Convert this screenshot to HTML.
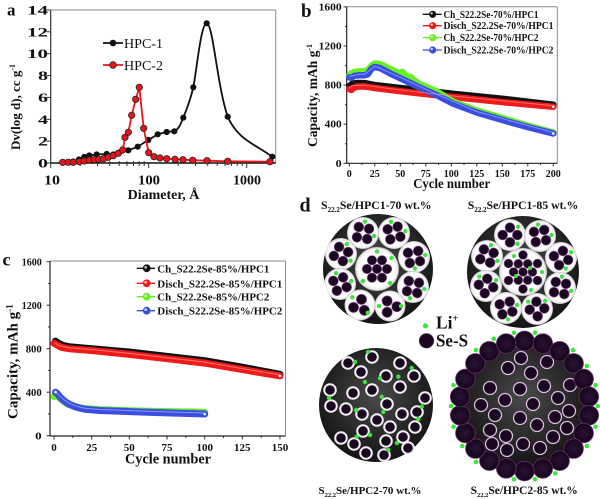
<!DOCTYPE html>
<html><head><meta charset="utf-8"><style>
html,body{margin:0;padding:0;background:#fff;}
svg{display:block;}
text{font-family:"Liberation Serif",serif;font-weight:bold;fill:#111;}
.p{fill:#1a0820;stroke:#a060a8;stroke-width:.6}
.g{fill:#3de33d}
.w{fill:#1a0820;stroke:#f6eef6;stroke-width:2}
.wp{fill:#1a0820;stroke:#dcbde0;stroke-width:1.3}
.rp{fill:url(#rg);stroke:#6a2a6a;stroke-width:.8}
</style></head><body>
<svg width="600" height="499" viewBox="0 0 600 499" xmlns="http://www.w3.org/2000/svg">
<defs>
<radialGradient id="dk" cx="50%" cy="42%" r="60%"><stop offset="0" stop-color="#4a4a4a"/><stop offset=".6" stop-color="#282828"/><stop offset="1" stop-color="#121212"/></radialGradient>
<radialGradient id="cg" cx="50%" cy="50%" r="50%"><stop offset="0" stop-color="#fff"/><stop offset=".8" stop-color="#fff"/><stop offset=".93" stop-color="#ececec"/><stop offset="1" stop-color="#b5b5b5"/></radialGradient>
<radialGradient id="rg" cx="50%" cy="50%" r="50%"><stop offset="0" stop-color="#2c1236"/><stop offset="1" stop-color="#14071a"/></radialGradient>
<g id="c4"><circle r="16" fill="url(#cg)"/><circle cx="-5.2" cy="-5.2" r="5" class="p"/><circle cx="5.2" cy="-5.2" r="5" class="p"/><circle cx="-5.2" cy="5.2" r="5" class="p"/><circle cx="5.2" cy="5.2" r="5" class="p"/><circle cx="0" cy="-11.5" r="2.2" class="g"/><circle cx="11.5" cy="1" r="2.2" class="g"/></g>
<g id="c3"><circle r="15.5" fill="url(#cg)"/><circle cx="0" cy="-5.8" r="5.2" class="p"/><circle cx="-5.6" cy="4" r="5.2" class="p"/><circle cx="5.6" cy="4" r="5.2" class="p"/><circle cx="-9.5" cy="-5.5" r="2.2" class="g"/><circle cx="9.5" cy="5.5" r="2.2" class="g"/></g>
<clipPath id="clTL"><circle cx="378" cy="269" r="55"/></clipPath>
<clipPath id="clTR"><circle cx="523" cy="272" r="56"/></clipPath>
</defs>

<!-- ============ PANEL A ============ -->
<text x="7" y="15.5" font-size="17">a</text>
<line x1="50.7" y1="10" x2="275.7" y2="10" stroke="#8a8a8a" stroke-width="1"/>
<line x1="275.7" y1="10" x2="275.7" y2="163" stroke="#8a8a8a" stroke-width="1"/>
<line x1="50.7" y1="10" x2="50.7" y2="163" stroke="#333" stroke-width="1.2"/>
<line x1="50.7" y1="163" x2="275.7" y2="163" stroke="#111" stroke-width="1.5"/>
<g stroke="#333" stroke-width="1">
<line x1="46.5" y1="163" x2="50.7" y2="163"/><line x1="46.5" y1="141.1" x2="50.7" y2="141.1"/><line x1="46.5" y1="119.3" x2="50.7" y2="119.3"/><line x1="46.5" y1="97.4" x2="50.7" y2="97.4"/><line x1="46.5" y1="75.6" x2="50.7" y2="75.6"/><line x1="46.5" y1="53.7" x2="50.7" y2="53.7"/><line x1="46.5" y1="31.8" x2="50.7" y2="31.8"/><line x1="46.5" y1="10" x2="50.7" y2="10"/>
<line x1="50.7" y1="163" x2="50.7" y2="168"/><line x1="148.7" y1="163" x2="148.7" y2="168"/><line x1="246.7" y1="163" x2="246.7" y2="168"/>
<line x1="80.2" y1="161" x2="80.2" y2="166"/><line x1="97.5" y1="161" x2="97.5" y2="166"/><line x1="109.7" y1="161" x2="109.7" y2="166"/><line x1="119.2" y1="161" x2="119.2" y2="166"/><line x1="127" y1="161" x2="127" y2="166"/><line x1="133.5" y1="161" x2="133.5" y2="166"/><line x1="139.2" y1="161" x2="139.2" y2="166"/><line x1="144.2" y1="161" x2="144.2" y2="166"/>
<line x1="178.2" y1="161" x2="178.2" y2="166"/><line x1="195.5" y1="161" x2="195.5" y2="166"/><line x1="207.7" y1="161" x2="207.7" y2="166"/><line x1="217.2" y1="161" x2="217.2" y2="166"/><line x1="225" y1="161" x2="225" y2="166"/><line x1="231.5" y1="161" x2="231.5" y2="166"/><line x1="237.2" y1="161" x2="237.2" y2="166"/><line x1="242.2" y1="161" x2="242.2" y2="166"/>
</g>
<g font-size="13" text-anchor="end">
<text x="48" y="167.5" textLength="10" lengthAdjust="spacingAndGlyphs">0</text>
<text x="48" y="145.6" textLength="10" lengthAdjust="spacingAndGlyphs">2</text>
<text x="48" y="123.8" textLength="10" lengthAdjust="spacingAndGlyphs">4</text>
<text x="48" y="101.9" textLength="10" lengthAdjust="spacingAndGlyphs">6</text>
<text x="48" y="80.1" textLength="10" lengthAdjust="spacingAndGlyphs">8</text>
<text x="48" y="58.2" textLength="21" lengthAdjust="spacingAndGlyphs">10</text>
<text x="48" y="36.3" textLength="21" lengthAdjust="spacingAndGlyphs">12</text>
<text x="48" y="14.5" textLength="21" lengthAdjust="spacingAndGlyphs">14</text>
</g>
<g font-size="14" text-anchor="middle">
<text x="52" y="184.3" textLength="16" lengthAdjust="spacingAndGlyphs">10</text>
<text x="149" y="184.3" textLength="22" lengthAdjust="spacingAndGlyphs">100</text>
<text x="247" y="184.3" textLength="28" lengthAdjust="spacingAndGlyphs">1000</text>
</g>
<text x="163.5" y="199" font-size="14" text-anchor="middle">Diameter, Å</text>
<text transform="translate(20,107) rotate(-90)" font-size="13" text-anchor="middle">Dv(log d), cc g<tspan dy="-5" font-size="8">-1</tspan></text>
<!-- legend a -->
<line x1="103" y1="43" x2="123" y2="43" stroke="#111" stroke-width="1.8"/>
<circle cx="113" cy="43" r="3.3" fill="#111"/>
<text x="124" y="48" font-size="14" textLength="39" lengthAdjust="spacingAndGlyphs" style="font-weight:normal">HPC-1</text>
<line x1="103" y1="65" x2="123" y2="65" stroke="#f0141c" stroke-width="1.8"/>
<circle cx="113" cy="65" r="3.3" fill="#e8141c" stroke="#222" stroke-width=".8"/>
<text x="124" y="70" font-size="14" textLength="39" lengthAdjust="spacingAndGlyphs" style="font-weight:normal">HPC-2</text>
<!-- black series -->
<path d="M62.7,162.3 L68.3,162.3 L73.3,161.5 L79,159.5 L84.3,157 L89.3,155.5 L96.7,154.5 L106.7,154 L113.3,154.5 L119.3,152.5 L128.3,150.3 L137.7,146.7 L148.3,140 L157.7,134.3 L166.7,132 L174.3,131.3 C178.5,129.5 180.5,124.5 183.3,117.7 C187,108 190.5,100 193.3,87.3 C197,68 201,23.3 206.7,23.3 C213,23.3 217,85 227.7,116.7 C238,140 255,144 272.3,156.7" fill="none" stroke="#111" stroke-width="1.8"/>
<g fill="#111">
<circle cx="62.7" cy="162.3" r="3.1"/><circle cx="68.3" cy="162.3" r="3.1"/><circle cx="73.3" cy="161.5" r="3.1"/><circle cx="79" cy="159.5" r="3.1"/><circle cx="84.3" cy="157" r="3.1"/><circle cx="89.3" cy="155.5" r="3.1"/><circle cx="96.7" cy="154.5" r="3.1"/><circle cx="106.7" cy="154" r="3.1"/><circle cx="113.3" cy="154.5" r="3.1"/><circle cx="119.3" cy="152.5" r="3.1"/><circle cx="128.3" cy="150.3" r="3.1"/><circle cx="137.7" cy="146.7" r="3.1"/><circle cx="148.3" cy="140" r="3.1"/><circle cx="157.7" cy="134.3" r="3.1"/><circle cx="166.7" cy="132" r="3.1"/><circle cx="174.3" cy="131.3" r="3.1"/><circle cx="183.3" cy="117.7" r="3.1"/><circle cx="193.3" cy="87.3" r="3.1"/><circle cx="206.7" cy="23.3" r="3.1"/><circle cx="227.7" cy="116.7" r="3.1"/><circle cx="272.3" cy="156.7" r="3.1"/>
</g>
<!-- red series -->
<polyline points="62.7,162.3 68.3,162.3 73.3,162.3 79.3,161.7 84.3,161 89.3,160 94.3,159.7 98.7,159.3 103.7,158.7 108.3,157.3 113.3,155.7 118.3,153.3 122.7,150 125,137.3 128.3,132.3 131.7,115.3 135.7,99.3 139.3,87.3 143.7,128.3 148.7,152.7 154,156.7 160,158 166.7,158.7 175,159.3 183,159.7 192.7,160.3 207,160.7 227.7,161.3 270,161.7" fill="none" stroke="#f0141c" stroke-width="1.8"/>
<g fill="#e8141c" stroke="#222" stroke-width=".8">
<circle cx="62.7" cy="162.3" r="3.2"/><circle cx="68.3" cy="162.3" r="3.2"/><circle cx="73.3" cy="162.3" r="3.2"/><circle cx="79.3" cy="161.7" r="3.2"/><circle cx="84.3" cy="161" r="3.2"/><circle cx="89.3" cy="160" r="3.2"/><circle cx="94.3" cy="159.7" r="3.2"/><circle cx="98.7" cy="159.3" r="3.2"/><circle cx="103.7" cy="158.7" r="3.2"/><circle cx="108.3" cy="157.3" r="3.2"/><circle cx="113.3" cy="155.7" r="3.2"/><circle cx="118.3" cy="153.3" r="3.2"/><circle cx="122.7" cy="150" r="3.2"/><circle cx="125" cy="137.3" r="3.2"/><circle cx="128.3" cy="132.3" r="3.2"/><circle cx="131.7" cy="115.3" r="3.2"/><circle cx="135.7" cy="99.3" r="3.2"/><circle cx="139.3" cy="87.3" r="3.2"/><circle cx="143.7" cy="128.3" r="3.2"/><circle cx="148.7" cy="152.7" r="3.2"/><circle cx="154" cy="156.7" r="3.2"/><circle cx="160" cy="158" r="3.2"/><circle cx="166.7" cy="158.7" r="3.2"/><circle cx="175" cy="159.3" r="3.2"/><circle cx="183" cy="159.7" r="3.2"/><circle cx="192.7" cy="160.3" r="3.2"/><circle cx="207" cy="160.7" r="3.2"/><circle cx="227.7" cy="161.3" r="3.2"/><circle cx="270" cy="161.7" r="3.2"/>
</g>

<!-- ============ PANEL B ============ -->
<text x="301" y="17" font-size="19">b</text>
<line x1="346.7" y1="6.7" x2="557.3" y2="6.7" stroke="#8a8a8a" stroke-width="1"/>
<line x1="557.3" y1="6.7" x2="557.3" y2="163.3" stroke="#8a8a8a" stroke-width="1"/>
<g stroke="#333" stroke-width="1">
<line x1="343.5" y1="163.3" x2="346.7" y2="163.3"/><line x1="343.5" y1="124.2" x2="346.7" y2="124.2"/><line x1="343.5" y1="85.1" x2="346.7" y2="85.1"/><line x1="343.5" y1="46" x2="346.7" y2="46"/><line x1="343.5" y1="6.9" x2="346.7" y2="6.9"/>
<line x1="345" y1="143.8" x2="346.7" y2="143.8"/><line x1="345" y1="104.7" x2="346.7" y2="104.7"/><line x1="345" y1="65.6" x2="346.7" y2="65.6"/><line x1="345" y1="26.5" x2="346.7" y2="26.5"/>
<line x1="349.3" y1="163.3" x2="349.3" y2="166.5"/><line x1="374.8" y1="163.3" x2="374.8" y2="166.5"/><line x1="400.3" y1="163.3" x2="400.3" y2="166.5"/><line x1="425.8" y1="163.3" x2="425.8" y2="166.5"/><line x1="451.3" y1="163.3" x2="451.3" y2="166.5"/><line x1="476.8" y1="163.3" x2="476.8" y2="166.5"/><line x1="502.3" y1="163.3" x2="502.3" y2="166.5"/><line x1="527.8" y1="163.3" x2="527.8" y2="166.5"/><line x1="553.3" y1="163.3" x2="553.3" y2="166.5"/>
<line x1="362" y1="163.3" x2="362" y2="165"/><line x1="387.5" y1="163.3" x2="387.5" y2="165"/><line x1="413" y1="163.3" x2="413" y2="165"/><line x1="438.5" y1="163.3" x2="438.5" y2="165"/><line x1="464" y1="163.3" x2="464" y2="165"/><line x1="489.5" y1="163.3" x2="489.5" y2="165"/><line x1="515" y1="163.3" x2="515" y2="165"/><line x1="540.5" y1="163.3" x2="540.5" y2="165"/>
</g>
<line x1="346.7" y1="6.7" x2="346.7" y2="163.3" stroke="#222" stroke-width="1.2"/>
<line x1="346.7" y1="163.3" x2="557.3" y2="163.3" stroke="#222" stroke-width="1.2"/>
<g font-size="10" text-anchor="end">
<text x="341.7" y="166.8" textLength="6" lengthAdjust="spacingAndGlyphs">0</text>
<text x="341.7" y="127.7" textLength="17" lengthAdjust="spacingAndGlyphs">400</text>
<text x="341.7" y="88.6" textLength="17" lengthAdjust="spacingAndGlyphs">800</text>
<text x="341.7" y="49.5" textLength="23" lengthAdjust="spacingAndGlyphs">1200</text>
<text x="341.7" y="10.4" textLength="23" lengthAdjust="spacingAndGlyphs">1600</text>
</g>
<g font-size="10" text-anchor="middle">
<text x="349.3" y="177">0</text><text x="374.8" y="177">25</text><text x="400.3" y="177">50</text><text x="425.8" y="177">75</text><text x="451.3" y="177">100</text><text x="476.8" y="177">125</text><text x="502.3" y="177">150</text><text x="527.8" y="177">175</text><text x="553.3" y="177">200</text>
</g>
<text x="451.7" y="188" font-size="14" text-anchor="middle" textLength="77" lengthAdjust="spacingAndGlyphs">Cycle number</text>
<text transform="translate(317,95.5) rotate(-90)" font-size="13.5" text-anchor="middle">Capacity, mAh g<tspan dy="-5" font-size="8">-1</tspan></text>
<g fill="none" stroke-linejoin="round" stroke-linecap="round">
<polyline points="349.3,86.1 352.4,83.6 357.5,83 364.6,83.1 374.8,85.1 400.3,88 419.7,90 453.3,93.9 503.3,98.8 553.3,104.7" stroke="#111" stroke-width="6.5"/>
<polyline points="349.3,89 351.3,90 353.4,88 357.5,86.6 364.6,86.4 374.8,88 400.3,91.2 419.7,93.4 453.3,97 503.3,102.2 553.3,106.8" stroke="#f01a1a" stroke-width="6.5"/>
<polyline points="349.3,75.3 351.3,73.4 354.4,71.9 359.5,71.4 364.6,71.4 367.7,70.4 371.7,65.5 374.8,63.6 379.9,64.1 385,66.5 395.2,71.4 400.3,73.4 402.3,71.9 404.4,74.3 408.5,77.3 410.5,76.8 412.5,79.2 419.7,84.1 436,91 453.3,101.7 476.8,110.5 503.3,118.3 527.8,125.7 553.3,132.5" stroke="#66f022" stroke-width="6.5"/>
<polyline points="349.3,77.3 351.3,77.8 354.4,75.8 359.5,75.3 364.6,75.3 367.7,74.3 371.7,68.5 374.8,67 379.9,68 390.1,73.4 400.3,78.3 410.5,83.1 419.7,87.5 436,94.9 453.3,103.7 476.8,112.5 503.3,120.3 527.8,127.1 553.3,133.5" stroke="#3a4ee0" stroke-width="6.5"/>
<polyline points="349.3,88 352.4,85.4 364.6,85.2 400.3,90 453.3,96 553.3,105.8" stroke="#ff9a9a" stroke-width="1" opacity=".6"/>
<polyline points="349.3,76.3 359.5,74.3 364.6,74.3 374.8,66 400.3,77.3 436,93.9 476.8,111.5 553.3,132.5" stroke="#b8c2ff" stroke-width="1" opacity=".6"/>
</g>
<circle cx="553.3" cy="106.8" r="1.3" fill="#fff"/><circle cx="553.3" cy="133.5" r="1.3" fill="#fff"/>
<!-- legend b -->
<g stroke-width="1.3">
<line x1="422.7" y1="14.3" x2="441.7" y2="14.3" stroke="#111"/><circle cx="432.7" cy="14.3" r="3.6" fill="#111"/>
<line x1="422.7" y1="25.7" x2="441.7" y2="25.7" stroke="#f01a1a"/><circle cx="432.7" cy="25.7" r="3.6" fill="#f01a1a"/>
<line x1="422.7" y1="37.7" x2="441.7" y2="37.7" stroke="#66f022"/><circle cx="432.7" cy="37.7" r="3.6" fill="#66f022"/>
<line x1="422.7" y1="50" x2="441.7" y2="50" stroke="#3a4ee0"/><circle cx="432.7" cy="50" r="3.6" fill="#3a4ee0"/>
</g>
<g fill="#fff" opacity=".8"><circle cx="431.7" cy="13.3" r="1.2"/><circle cx="431.7" cy="24.7" r="1.2"/><circle cx="431.7" cy="36.7" r="1.2"/><circle cx="431.7" cy="49" r="1.2"/></g>
<g font-size="10">
<text x="443.5" y="17.8" textLength="95" lengthAdjust="spacingAndGlyphs">Ch_S22.2Se-70%/HPC1</text>
<text x="443.5" y="29.2" textLength="110" lengthAdjust="spacingAndGlyphs">Disch_S22.2Se-70%/HPC1</text>
<text x="443.5" y="41.2" textLength="95" lengthAdjust="spacingAndGlyphs">Ch_S22.2Se-70%/HPC2</text>
<text x="443.5" y="53.5" textLength="110" lengthAdjust="spacingAndGlyphs">Disch_S22.2Se-70%/HPC2</text>
</g>

<!-- ============ PANEL C ============ -->
<text x="2.5" y="265.5" font-size="18">c</text>
<line x1="50" y1="261" x2="285.5" y2="261" stroke="#8a8a8a" stroke-width="1"/>
<line x1="285.5" y1="261" x2="285.5" y2="436" stroke="#8a8a8a" stroke-width="1"/>
<g stroke="#333" stroke-width="1">
<line x1="46.5" y1="435.7" x2="50" y2="435.7"/><line x1="46.5" y1="392.2" x2="50" y2="392.2"/><line x1="46.5" y1="348.7" x2="50" y2="348.7"/><line x1="46.5" y1="305.2" x2="50" y2="305.2"/><line x1="46.5" y1="261.7" x2="50" y2="261.7"/>
<line x1="48" y1="413.9" x2="50" y2="413.9"/><line x1="48" y1="370.4" x2="50" y2="370.4"/><line x1="48" y1="326.9" x2="50" y2="326.9"/><line x1="48" y1="283.4" x2="50" y2="283.4"/>
<line x1="54" y1="436" x2="54" y2="439.5"/><line x1="91.7" y1="436" x2="91.7" y2="439.5"/><line x1="129.3" y1="436" x2="129.3" y2="439.5"/><line x1="167" y1="436" x2="167" y2="439.5"/><line x1="204.7" y1="436" x2="204.7" y2="439.5"/><line x1="242.3" y1="436" x2="242.3" y2="439.5"/><line x1="280" y1="436" x2="280" y2="439.5"/>
<line x1="72.8" y1="436" x2="72.8" y2="438"/><line x1="110.5" y1="436" x2="110.5" y2="438"/><line x1="148.2" y1="436" x2="148.2" y2="438"/><line x1="185.8" y1="436" x2="185.8" y2="438"/><line x1="223.5" y1="436" x2="223.5" y2="438"/><line x1="261.2" y1="436" x2="261.2" y2="438"/>
</g>
<line x1="50" y1="261" x2="50" y2="436" stroke="#222" stroke-width="1.2"/>
<line x1="50" y1="436" x2="285.5" y2="436" stroke="#222" stroke-width="1.2"/>
<g font-size="11" text-anchor="end">
<text x="41.7" y="439.5" textLength="6.5" lengthAdjust="spacingAndGlyphs">0</text>
<text x="41.7" y="396" textLength="16" lengthAdjust="spacingAndGlyphs">400</text>
<text x="41.7" y="352.5" textLength="16" lengthAdjust="spacingAndGlyphs">800</text>
<text x="41.7" y="309" textLength="20" lengthAdjust="spacingAndGlyphs">1200</text>
<text x="41.7" y="265.5" textLength="20" lengthAdjust="spacingAndGlyphs">1600</text>
</g>
<g font-size="11" text-anchor="middle">
<text x="54" y="451">0</text><text x="91.7" y="451">25</text><text x="129.3" y="451">50</text><text x="167" y="451">75</text><text x="204.7" y="451">100</text><text x="242.3" y="451">125</text><text x="280" y="451">150</text>
</g>
<text x="168" y="463.5" font-size="15" text-anchor="middle" textLength="86" lengthAdjust="spacingAndGlyphs">Cycle number</text>
<text transform="translate(17.5,361.7) rotate(-90)" font-size="15" text-anchor="middle">Capacity, mAh g<tspan dy="-5" font-size="9">-1</tspan></text>
<g fill="none" stroke-linejoin="round" stroke-linecap="round">
<polyline points="55.5,341.1 58.5,343.3 63,345.4 69.1,346.7 91.7,348.7 129.3,352 167,356.3 204.7,360.7 242.3,367.2 280,374.3" stroke="#111" stroke-width="7"/>
<polyline points="54,343.3 57,344.9 61.5,347.4 69.1,348.7 91.7,350.5 129.3,354.4 167,358.7 204.7,363.1 242.3,369.6 280,375.9" stroke="#f01a1a" stroke-width="7"/>
<polyline points="54,396.5 57,395.5 60,398.2 64.5,402 69.1,404.7 76.6,407.2 84.1,408.5 99.2,409.6 129.3,410.7 167,411.6 204.7,412.3" stroke="#66f022" stroke-width="7"/>
<polyline points="55.5,392.2 57,393.3 60,397.1 64.5,401.1 69.1,404.2 76.6,407.2 84.1,409.1 99.2,410.5 129.3,411.6 167,412.9 204.7,414" stroke="#3a4ee0" stroke-width="7"/>
<polyline points="55,343 59,345.5 69.1,347.7 91.7,349.5 129.3,353.4 167,357.7 204.7,362.1 242.3,368.6 280,374.9" stroke="#ffb0b0" stroke-width="1" opacity=".6"/>
<polyline points="56,392.5 60,396.1 64.5,400.1 69.1,403.2 76.6,406.2 84.1,408.1 99.2,409.5 129.3,410.6 167,411.9 204.7,413" stroke="#c0c8ff" stroke-width="1" opacity=".6"/>
</g>
<circle cx="280" cy="375.9" r="1.3" fill="#fff"/><circle cx="204.7" cy="414" r="1.3" fill="#fff"/><circle cx="55.5" cy="392" r="1.3" fill="#fff"/>
<!-- legend c -->
<g stroke-width="1.3">
<line x1="136.7" y1="268.3" x2="155" y2="268.3" stroke="#111"/><circle cx="146.7" cy="268.3" r="3.9" fill="#111"/>
<line x1="136.7" y1="283.3" x2="155" y2="283.3" stroke="#f01a1a"/><circle cx="146.7" cy="283.3" r="3.9" fill="#f01a1a"/>
<line x1="136.7" y1="296.7" x2="155" y2="296.7" stroke="#66f022"/><circle cx="146.7" cy="296.7" r="3.9" fill="#66f022"/>
<line x1="136.7" y1="310.7" x2="155" y2="310.7" stroke="#3a4ee0"/><circle cx="146.7" cy="310.7" r="3.9" fill="#3a4ee0"/>
</g>
<g fill="#fff" opacity=".8"><circle cx="145.7" cy="267.3" r="1.3"/><circle cx="145.7" cy="282.3" r="1.3"/><circle cx="145.7" cy="295.7" r="1.3"/><circle cx="145.7" cy="309.7" r="1.3"/></g>
<g font-size="11">
<text x="157.3" y="272.3" textLength="112" lengthAdjust="spacingAndGlyphs">Ch_S22.2Se-85%/HPC1</text>
<text x="157.3" y="287.3" textLength="125" lengthAdjust="spacingAndGlyphs">Disch_S22.2Se-85%/HPC1</text>
<text x="157.3" y="300.7" textLength="112" lengthAdjust="spacingAndGlyphs">Ch_S22.2Se-85%/HPC2</text>
<text x="157.3" y="314.7" textLength="125" lengthAdjust="spacingAndGlyphs">Disch_S22.2Se-85%/HPC2</text>
</g>

<!-- ============ PANEL D ============ -->
<text x="299.5" y="211.7" font-size="20">d</text>
<text x="376.3" y="209" font-size="11.8" text-anchor="middle">S<tspan dy="3" font-size="7">22.2</tspan><tspan dy="-3">Se/HPC1-70 wt.%</tspan></text>
<text x="523" y="209" font-size="11.8" text-anchor="middle">S<tspan dy="3" font-size="7">22.2</tspan><tspan dy="-3">Se/HPC1-85 wt.%</tspan></text>
<text x="370" y="494" font-size="11" text-anchor="middle">S<tspan dy="3" font-size="6.5">22.2</tspan><tspan dy="-3">Se/HPC2-70 wt.%</tspan></text>
<text x="524.2" y="494" font-size="11.5" text-anchor="middle">S<tspan dy="3" font-size="6.5">22.2</tspan><tspan dy="-3">Se/HPC2-85 wt.%</tspan></text>

<!-- TL circle -->
<circle cx="378" cy="269" r="55" fill="url(#dk)"/>
<g clip-path="url(#clTL)">
<use href="#c4" transform="translate(363,233) rotate(10)"/>
<use href="#c4" transform="translate(394,233) rotate(-15)"/>
<use href="#c4" transform="translate(341,254) rotate(30)"/>
<use href="#c4" transform="translate(414,257) rotate(80)"/>
<use href="#c4" transform="translate(340,284) rotate(-20)"/>
<use href="#c4" transform="translate(413,287) rotate(100)"/>
<use href="#c3" transform="translate(360,305) rotate(15)"/>
<use href="#c3" transform="translate(390,306) rotate(-30)"/>
<circle cx="377" cy="269" r="22" fill="url(#cg)"/>
<circle cx="377" cy="269" r="4.8" class="p"/><circle cx="387" cy="269" r="4.8" class="p"/><circle cx="382" cy="277.7" r="4.8" class="p"/><circle cx="372" cy="277.7" r="4.8" class="p"/><circle cx="367" cy="269" r="4.8" class="p"/><circle cx="372" cy="260.3" r="4.8" class="p"/><circle cx="382" cy="260.3" r="4.8" class="p"/>
<circle cx="391.5" cy="258" r="2.2" class="g"/><circle cx="363" cy="281" r="2.2" class="g"/><circle cx="390" cy="283" r="2.2" class="g"/><circle cx="377" cy="251.5" r="2.2" class="g"/>
</g>
<!-- TR circle -->
<circle cx="523" cy="272" r="56" fill="url(#dk)"/>
<g clip-path="url(#clTR)">
<use href="#c4" transform="translate(510,235) rotate(45)"/>
<use href="#c4" transform="translate(540,236) rotate(-10)"/>
<use href="#c4" transform="translate(487,256) rotate(20)"/>
<use href="#c4" transform="translate(561,258) rotate(60)"/>
<use href="#c4" transform="translate(486,286) rotate(-35)"/>
<use href="#c4" transform="translate(560,288) rotate(10)"/>
<use href="#c4" transform="translate(506,308) rotate(75)"/>
<use href="#c4" transform="translate(537,309) rotate(-50)"/>
<circle cx="523" cy="272" r="24" fill="url(#cg)"/>
<circle cx="523" cy="272" r="4.5" class="p"/><circle cx="532.4" cy="272" r="4.5" class="p"/><circle cx="527.7" cy="280.2" r="4.5" class="p"/><circle cx="518.3" cy="280.2" r="4.5" class="p"/><circle cx="513.6" cy="272" r="4.5" class="p"/><circle cx="518.3" cy="263.8" r="4.5" class="p"/><circle cx="527.7" cy="263.8" r="4.5" class="p"/>
<circle cx="537.5" cy="280.5" r="4.5" class="p"/><circle cx="523" cy="289" r="4.5" class="p"/><circle cx="508.5" cy="280.5" r="4.5" class="p"/><circle cx="508.5" cy="263.5" r="4.5" class="p"/><circle cx="523" cy="255" r="4.5" class="p"/><circle cx="537.5" cy="263.5" r="4.5" class="p"/>
<circle cx="530" cy="268" r="2" class="g"/><circle cx="516" cy="276" r="2" class="g"/><circle cx="542" cy="272" r="2" class="g"/><circle cx="514" cy="256" r="2" class="g"/><circle cx="531" cy="290" r="2" class="g"/>
</g>
<!-- Li+ / Se-S legend -->
<circle cx="425.5" cy="325.8" r="2.6" class="g"/>
<text x="436" y="328.5" font-size="17.5">Li<tspan dy="-7" font-size="10">+</tspan></text>
<circle cx="426.5" cy="340.8" r="7.3" fill="#1a0820" stroke="#6a3a6a" stroke-width=".6"/>
<text x="436" y="346.7" font-size="17.5" textLength="32" lengthAdjust="spacingAndGlyphs">Se-S</text>

<!-- BL circle -->
<circle cx="376" cy="405" r="57" fill="url(#dk)"/>
<g>
<circle cx="348" cy="363" r="5.8" class="w"/><circle cx="372" cy="357" r="5.8" class="w"/><circle cx="400" cy="363" r="5.8" class="w"/><circle cx="361" cy="372" r="5.8" class="w"/><circle cx="386" cy="376" r="5.8" class="w"/><circle cx="400" cy="387" r="5.8" class="w"/><circle cx="414" cy="376" r="5.8" class="w"/><circle cx="372" cy="390" r="5.8" class="w"/><circle cx="353" cy="393" r="5.8" class="w"/><circle cx="330" cy="390" r="5.8" class="w"/><circle cx="387" cy="404" r="5.8" class="w"/><circle cx="331" cy="406" r="5.8" class="w"/><circle cx="346" cy="409" r="5.8" class="w"/><circle cx="362" cy="414" r="5.8" class="w"/><circle cx="402" cy="414" r="5.8" class="w"/><circle cx="417" cy="412" r="5.8" class="w"/><circle cx="425" cy="398" r="5.8" class="w"/><circle cx="415" cy="427" r="5.8" class="w"/><circle cx="377" cy="420" r="5.8" class="w"/><circle cx="363" cy="431" r="5.8" class="w"/><circle cx="390" cy="427" r="5.8" class="w"/><circle cx="403" cy="437" r="5.8" class="w"/><circle cx="341" cy="438" r="5.8" class="w"/><circle cx="354" cy="444" r="5.8" class="w"/><circle cx="386" cy="441" r="5.8" class="w"/><circle cx="408" cy="448" r="5.8" class="w"/><circle cx="366" cy="453" r="5.8" class="w"/><circle cx="384" cy="455" r="5.8" class="w"/>
</g>
<g class="g">
<circle cx="355" cy="362" r="2.2"/><circle cx="368" cy="352" r="2.2"/><circle cx="380" cy="378.3" r="2.2"/><circle cx="398.3" cy="376.7" r="2.2"/><circle cx="411.7" cy="368" r="2.2"/><circle cx="365" cy="382" r="2.2"/><circle cx="381.7" cy="396.7" r="2.2"/><circle cx="329" cy="398" r="2.2"/><circle cx="356" cy="410" r="2.2"/><circle cx="383.3" cy="412" r="2.2"/><circle cx="421.7" cy="406.7" r="2.2"/><circle cx="418.3" cy="419" r="2.2"/><circle cx="356.7" cy="436.7" r="2.2"/><circle cx="370" cy="435" r="2.2"/><circle cx="397" cy="443" r="2.2"/><circle cx="388.3" cy="450" r="2.2"/>
</g>

<!-- BR circle -->
<circle cx="524.5" cy="406" r="62" fill="url(#dk)"/>
<g>
<circle cx="521" cy="358" r="6.5" class="wp"/><circle cx="508" cy="368" r="6.5" class="wp"/><circle cx="531" cy="373" r="6.5" class="wp"/><circle cx="547" cy="362" r="6.5" class="wp"/><circle cx="544" cy="386" r="6.5" class="wp"/><circle cx="520" cy="389" r="6.5" class="wp"/><circle cx="505" cy="400" r="6.5" class="wp"/><circle cx="490" cy="388" r="6.5" class="wp"/><circle cx="481" cy="405" r="6.5" class="wp"/><circle cx="495" cy="415" r="6.5" class="wp"/><circle cx="558" cy="398" r="6.5" class="wp"/><circle cx="570" cy="385" r="6.5" class="wp"/><circle cx="569" cy="411" r="6.5" class="wp"/><circle cx="555" cy="417" r="6.5" class="wp"/><circle cx="533" cy="404" r="6.5" class="wp"/><circle cx="537" cy="425" r="6.5" class="wp"/><circle cx="520" cy="418" r="6.5" class="wp"/><circle cx="490" cy="430" r="6.5" class="wp"/><circle cx="506" cy="436" r="6.5" class="wp"/><circle cx="523" cy="444" r="6.5" class="wp"/><circle cx="540" cy="448" r="6.5" class="wp"/><circle cx="553" cy="437" r="6.5" class="wp"/><circle cx="567" cy="428" r="6.5" class="wp"/><circle cx="507" cy="450" r="6.5" class="wp"/><circle cx="492" cy="444" r="6.5" class="wp"/>
</g>
<g>
<circle cx="524.5" cy="341" r="9.8" class="rp"/><circle cx="542.8" cy="343.6" r="9.8" class="rp"/><circle cx="559.6" cy="351.3" r="9.8" class="rp"/><circle cx="573.6" cy="363.4" r="9.8" class="rp"/><circle cx="583.6" cy="379" r="9.8" class="rp"/><circle cx="588.8" cy="396.7" r="9.8" class="rp"/><circle cx="588.8" cy="415.3" r="9.8" class="rp"/><circle cx="583.6" cy="433" r="9.8" class="rp"/><circle cx="573.6" cy="448.6" r="9.8" class="rp"/><circle cx="559.6" cy="460.7" r="9.8" class="rp"/><circle cx="542.8" cy="468.4" r="9.8" class="rp"/><circle cx="524.5" cy="471" r="9.8" class="rp"/><circle cx="506.2" cy="468.4" r="9.8" class="rp"/><circle cx="489.4" cy="460.7" r="9.8" class="rp"/><circle cx="475.4" cy="448.6" r="9.8" class="rp"/><circle cx="465.4" cy="433" r="9.8" class="rp"/><circle cx="460.2" cy="415.3" r="9.8" class="rp"/><circle cx="460.2" cy="396.7" r="9.8" class="rp"/><circle cx="465.4" cy="379" r="9.8" class="rp"/><circle cx="475.4" cy="363.4" r="9.8" class="rp"/><circle cx="489.4" cy="351.3" r="9.8" class="rp"/><circle cx="506.2" cy="343.6" r="9.8" class="rp"/>
</g>
<g class="g">
<circle cx="535" cy="332.8" r="2.3"/><circle cx="573" cy="350.1" r="2.3"/><circle cx="586.8" cy="366" r="2.3"/><circle cx="595.5" cy="385.2" r="2.3"/><circle cx="597.8" cy="406" r="2.3"/><circle cx="595.5" cy="426.8" r="2.3"/><circle cx="586.8" cy="446" r="2.3"/><circle cx="555.2" cy="473.3" r="2.3"/><circle cx="535" cy="479.2" r="2.3"/><circle cx="514" cy="479.2" r="2.3"/><circle cx="476" cy="461.9" r="2.3"/><circle cx="462.2" cy="446" r="2.3"/><circle cx="453.5" cy="426.8" r="2.3"/><circle cx="451" cy="406" r="2.3"/><circle cx="453.5" cy="385.2" r="2.3"/><circle cx="476" cy="350.1" r="2.3"/><circle cx="493.8" cy="338.7" r="2.3"/><circle cx="514" cy="332.8" r="2.3"/>
</g>
</svg>
</body></html>
